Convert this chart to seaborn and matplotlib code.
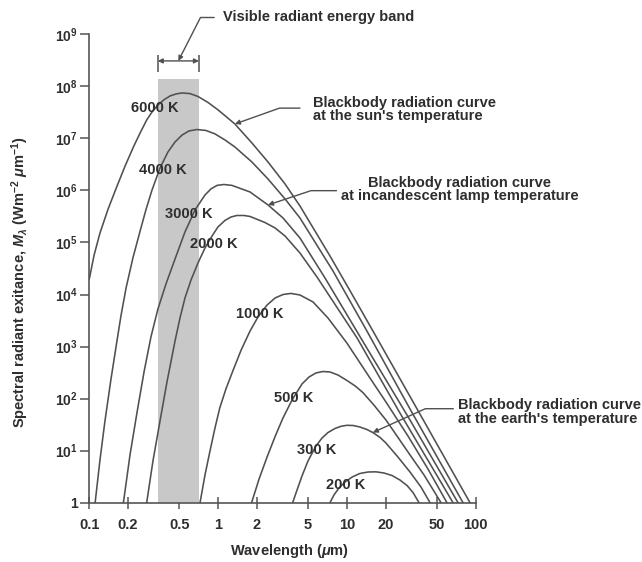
import matplotlib
matplotlib.use("Agg")
import matplotlib.pyplot as plt
from matplotlib.ticker import NullLocator
import pandas as pd
import seaborn as sns

# ---------------- data ----------------
# wavelength in micrometres, spectral radiant exitance in W m^-2 um^-1
wl_6000 = [0.100, 0.109, 0.121, 0.140, 0.163, 0.189, 0.220, 0.248, 0.279, 0.307,
           0.341, 0.380, 0.423, 0.471, 0.525, 0.605, 0.698, 0.835, 1.00, 1.15,
           1.35, 1.83, 2.44, 3.31, 4.32, 7.39, 10.6, 17.1, 36.9, 90.3]
m_6000 = [1.99e4, 5.75e4, 1.52e5, 4.40e5, 1.16e6, 2.89e6, 6.84e6, 1.27e7, 2.26e7, 3.22e7,
          4.39e7, 5.52e7, 6.53e7, 7.14e7, 7.46e7, 7.26e7, 6.39e7, 4.90e7, 3.52e7, 2.64e7,
          1.89e7, 8.17e6, 3.52e6, 1.33e6, 5.03e5, 5.50e4, 1.17e4, 1.46e3, 50.6, 1.0]

wl_4000 = [0.111, 0.121, 0.132, 0.147, 0.163, 0.176, 0.193, 0.218, 0.248, 0.275,
           0.307, 0.354, 0.408, 0.463, 0.525, 0.594, 0.686, 0.805, 0.946, 1.13,
           1.35, 1.83, 2.44, 3.31, 4.32, 7.80, 14.3, 30.9, 79.7]
m_4000 = [1.0, 6.6, 35.6, 228, 1.17e3, 3.87e3, 1.34e4, 5.04e4, 1.66e5, 4.22e5,
          1.02e6, 2.70e6, 5.48e6, 8.53e6, 1.16e7, 1.39e7, 1.48e7, 1.42e7, 1.22e7, 9.33e6,
          6.84e6, 3.52e6, 1.66e6, 6.85e5, 2.96e5, 2.83e4, 1.99e3, 63.2, 1.0]

wl_3000 = [0.184, 0.207, 0.235, 0.266, 0.301, 0.341, 0.394, 0.463, 0.553, 0.662,
           0.791, 0.881, 0.981, 1.11, 1.28, 1.77, 2.44, 3.19, 4.32, 6.76,
           13.1, 30.9, 72.9]
m_3000 = [1.0, 8.26, 55.3, 325, 1.53e3, 5.27e3, 1.60e4, 4.82e4, 1.59e5, 4.22e5,
          8.18e5, 1.07e6, 1.25e6, 1.30e6, 1.25e6, 9.34e5, 5.26e5, 2.96e5, 1.22e5, 2.08e4,
          1.34e3, 38.8, 1.0]

wl_2000 = [0.279, 0.312, 0.354, 0.401, 0.463, 0.506, 0.553, 0.616, 0.698, 0.791,
           0.897, 0.998, 1.13, 1.26, 1.40, 1.59, 1.77, 2.31, 2.77, 3.31,
           4.32, 5.86, 12.0, 25.8, 66.7]
m_2000 = [1.0, 6.33, 37.2, 209, 1.28e3, 3.54e3, 8.58e3, 1.90e4, 4.04e4, 7.84e4,
          1.33e5, 1.99e5, 2.65e5, 3.09e5, 3.30e5, 3.30e5, 3.16e5, 2.42e5, 1.90e5, 1.33e5,
          6.28e4, 2.17e4, 1.46e3, 52.9, 1.0]

wl_1000 = [0.724, 0.791, 0.865, 0.946, 1.03, 1.15, 1.31, 1.51, 1.77, 2.04,
           2.40, 2.77, 3.19, 3.68, 4.32, 5.46, 7.13, 10.0, 15.1, 20.1,
           29.8, 42.6, 59.8]
m_1000 = [1.0, 3.41, 9.85, 27.3, 66.1, 153, 355, 859, 1.99e3, 3.70e3,
          6.29e3, 8.58e3, 1.00e4, 1.05e4, 9.80e3, 7.19e3, 3.54e3, 1.17e3, 249, 86.1,
          19.1, 4.44, 1.0]

wl_500 = [1.82, 2.08, 2.40, 2.77, 3.19, 3.75, 4.48, 5.08, 5.75, 6.52,
          7.39, 8.53, 10.0, 11.6, 13.3, 16.2, 20.1, 24.5, 29.8, 39.7, 53.8]
m_500 = [1.0, 2.85, 7.55, 18.7, 42.5, 94.0, 191, 260, 311, 332,
         325, 284, 223, 175, 131, 75.4, 38.8, 19.1, 9.42, 3.41, 1.0]

wl_300 = [3.79, 4.10, 4.48, 4.99, 5.75, 6.41, 7.13, 8.09, 9.00, 10.0,
          11.2, 12.6, 14.3, 15.9, 18.1, 20.1, 24.9, 30.9, 37.6, 44.2]
m_300 = [1.0, 1.75, 3.26, 6.33, 12.3, 17.5, 22.3, 26.7, 29.4, 30.7,
         30.4, 28.5, 25.5, 22.3, 17.9, 14.0, 7.55, 3.89, 2.00, 1.0]

wl_200 = [7.39, 7.94, 8.68, 9.67, 11.0, 12.6, 14.6, 16.8, 19.4, 22.4, 25.8, 29.3, 32.6, 36.3]
m_200 = [1.0, 1.41, 1.92, 2.50, 3.12, 3.64, 3.89, 3.92, 3.72, 3.33, 2.73, 2.14, 1.57, 1.0]

temperatures = ["6000 K", "4000 K", "3000 K", "2000 K", "1000 K", "500 K", "300 K", "200 K"]
wavelengths = [wl_6000, wl_4000, wl_3000, wl_2000, wl_1000, wl_500, wl_300, wl_200]
exitances = [m_6000, m_4000, m_3000, m_2000, m_1000, m_500, m_300, m_200]

visible_band = [0.34, 0.71]      # um
visible_top = 1.4e8

x_ticks = [0.1, 0.2, 0.5, 1, 2, 5, 10, 20, 50, 100]
x_tick_labels = ["0.1", "0.2", "0.5", "1", "2", "5", "10", "20", "50", "100"]
y_ticks = [1, 1e1, 1e2, 1e3, 1e4, 1e5, 1e6, 1e7, 1e8, 1e9]
y_tick_labels = ["1", "$10^{1}$", "$10^{2}$", "$10^{3}$", "$10^{4}$", "$10^{5}$",
                 "$10^{6}$", "$10^{7}$", "$10^{8}$", "$10^{9}$"]

# ---------------- style ----------------
sns.set_theme(style="ticks")
plt.rcParams.update({
    "font.family": ["Liberation Sans", "DejaVu Sans"],
    "font.weight": "bold",
    "axes.labelweight": "bold",
    "mathtext.fontset": "custom",
    "mathtext.rm": "Liberation Sans:bold",
    "mathtext.it": "Liberation Sans:italic:bold",
    "mathtext.bf": "Liberation Sans:bold",
    "text.color": "#2e2e2e",
    "axes.labelcolor": "#2e2e2e",
    "xtick.color": "#555555",
    "ytick.color": "#555555",
    "xtick.labelcolor": "#2e2e2e",
    "ytick.labelcolor": "#2e2e2e",
})

LINE = "#505050"
BAND = "#c8c8c8"
FS = 10.5
W, H = 642, 562

fig = plt.figure(figsize=(W / 100, H / 100), dpi=100)
ax = fig.add_axes([89.3 / W, 1 - 502.7 / H, 386.4 / W, 468.4 / H])
ax.set_xscale("log")
ax.set_yscale("log")

# visible band
ax.fill_between(visible_band, 1, visible_top, color=BAND, lw=0, zorder=1)

# curves (long-format table, one line per temperature)
rows = []
for t, wl, m in zip(temperatures, wavelengths, exitances):
    for i, (a, b) in enumerate(zip(wl, m)):
        rows.append({"temperature": t, "order": i, "wavelength": a, "exitance": b})
df = pd.DataFrame(rows)
for t in temperatures:
    sub = df[df["temperature"] == t]
    sns.lineplot(data=sub, x="wavelength", y="exitance", ax=ax, color=LINE,
                 lw=1.15, sort=False, estimator=None, legend=False, zorder=3)

ax.set_xlim(0.1, 100)
ax.set_ylim(1, 1e9)

# axes styling
for s in ["top", "right"]:
    ax.spines[s].set_visible(False)
for s in ["left", "bottom"]:
    ax.spines[s].set_color("#555555")
    ax.spines[s].set_linewidth(1.2)
ax.set_xticks(x_ticks)
ax.set_xticklabels(x_tick_labels)
ax.set_yticks(y_ticks)
ax.set_yticklabels(y_tick_labels)
ax.xaxis.set_minor_locator(NullLocator())
ax.yaxis.set_minor_locator(NullLocator())
ax.tick_params(axis="x", direction="inout", length=8, width=1.1, pad=7, labelsize=FS)
ax.tick_params(axis="y", direction="out", length=6.5, width=1.1, pad=2, labelsize=FS - 0.5)

ax.set_xlabel(r"Wavelength ($\mu$m)", fontsize=FS)
ax.xaxis.set_label_coords(0.517, -0.083)
ax.set_ylabel(r"Spectral radiant exitance, $M_\lambda$ (Wm$^{-2}$ $\mu$m$^{-1}$)", fontsize=FS)
ax.yaxis.set_label_coords(-0.15, 0.47)


def fpx(x, y):
    return (x / W, 1 - y / H)


# temperature labels
label_pos = [(155, 107.5), (163, 170), (189, 213.5), (214, 243.5),
             (260, 313.5), (294, 398.5), (316.5, 450), (346, 485)]
for t, (x, y) in zip(temperatures, label_pos):
    fig.text(*fpx(x, y), t, ha="center", va="center", fontsize=FS, zorder=5)

# bracket over the visible band
gm = (visible_band[0] * visible_band[1]) ** 0.5
ax.vlines(visible_band, visible_top * 1.35, visible_top * 2.86, color=LINE, lw=1.1, zorder=4)
ax.annotate("", xy=(visible_band[0], visible_top * 2.2), xytext=(visible_band[1], visible_top * 2.2),
            arrowprops=dict(arrowstyle="<|-|>", color=LINE, lw=1.0, shrinkA=0, shrinkB=0,
                            mutation_scale=7), annotation_clip=False)

arrow_kw = dict(arrowstyle="-|>", color=LINE, lw=1.0, mutation_scale=7, shrinkB=0)

ax.annotate("Visible radiant energy band", xy=(gm, visible_top * 2.2), xycoords="data",
            xytext=(223, H - 17.5), textcoords="figure pixels", ha="left", va="center",
            fontsize=FS, annotation_clip=False,
            arrowprops=dict(connectionstyle="angle,angleA=0,angleB=63,rad=0",
                            relpos=(0, 0.5), shrinkA=4, **arrow_kw))

i_sun = wl_6000.index(1.35)
ax.annotate("Blackbody radiation curve\nat the sun's temperature",
            xy=(wl_6000[i_sun], m_6000[i_sun]), xycoords="data",
            xytext=(313, H - 109.5), textcoords="figure pixels", ha="left", va="center",
            fontsize=FS, linespacing=0.95, annotation_clip=False,
            arrowprops=dict(connectionstyle="angle,angleA=0,angleB=19.6,rad=0",
                            relpos=(0, 0.55), shrinkA=7, **arrow_kw))

i_lamp = wl_3000.index(2.44)
ax.annotate("Blackbody radiation curve\nat incandescent lamp temperature",
            xy=(wl_3000[i_lamp], m_3000[i_lamp]), xycoords="data",
            xytext=(460, H - 189.3), textcoords="figure pixels", ha="center", va="center",
            fontsize=FS, linespacing=0.95, multialignment="center", annotation_clip=False,
            arrowprops=dict(connectionstyle="angle,angleA=0,angleB=18.4,rad=0",
                            relpos=(0, 0.45), shrinkA=1, **arrow_kw))

i_earth = wl_300.index(15.9)
ax.annotate("Blackbody radiation curve\nat the earth's temperature",
            xy=(wl_300[i_earth], m_300[i_earth]), xycoords="data",
            xytext=(458, H - 412), textcoords="figure pixels", ha="left", va="center",
            fontsize=FS, linespacing=0.95, annotation_clip=False,
            arrowprops=dict(connectionstyle="angle,angleA=0,angleB=24.4,rad=0",
                            relpos=(0, 0.62), shrinkA=1, **arrow_kw))

fig.savefig("out.png", dpi=100)
